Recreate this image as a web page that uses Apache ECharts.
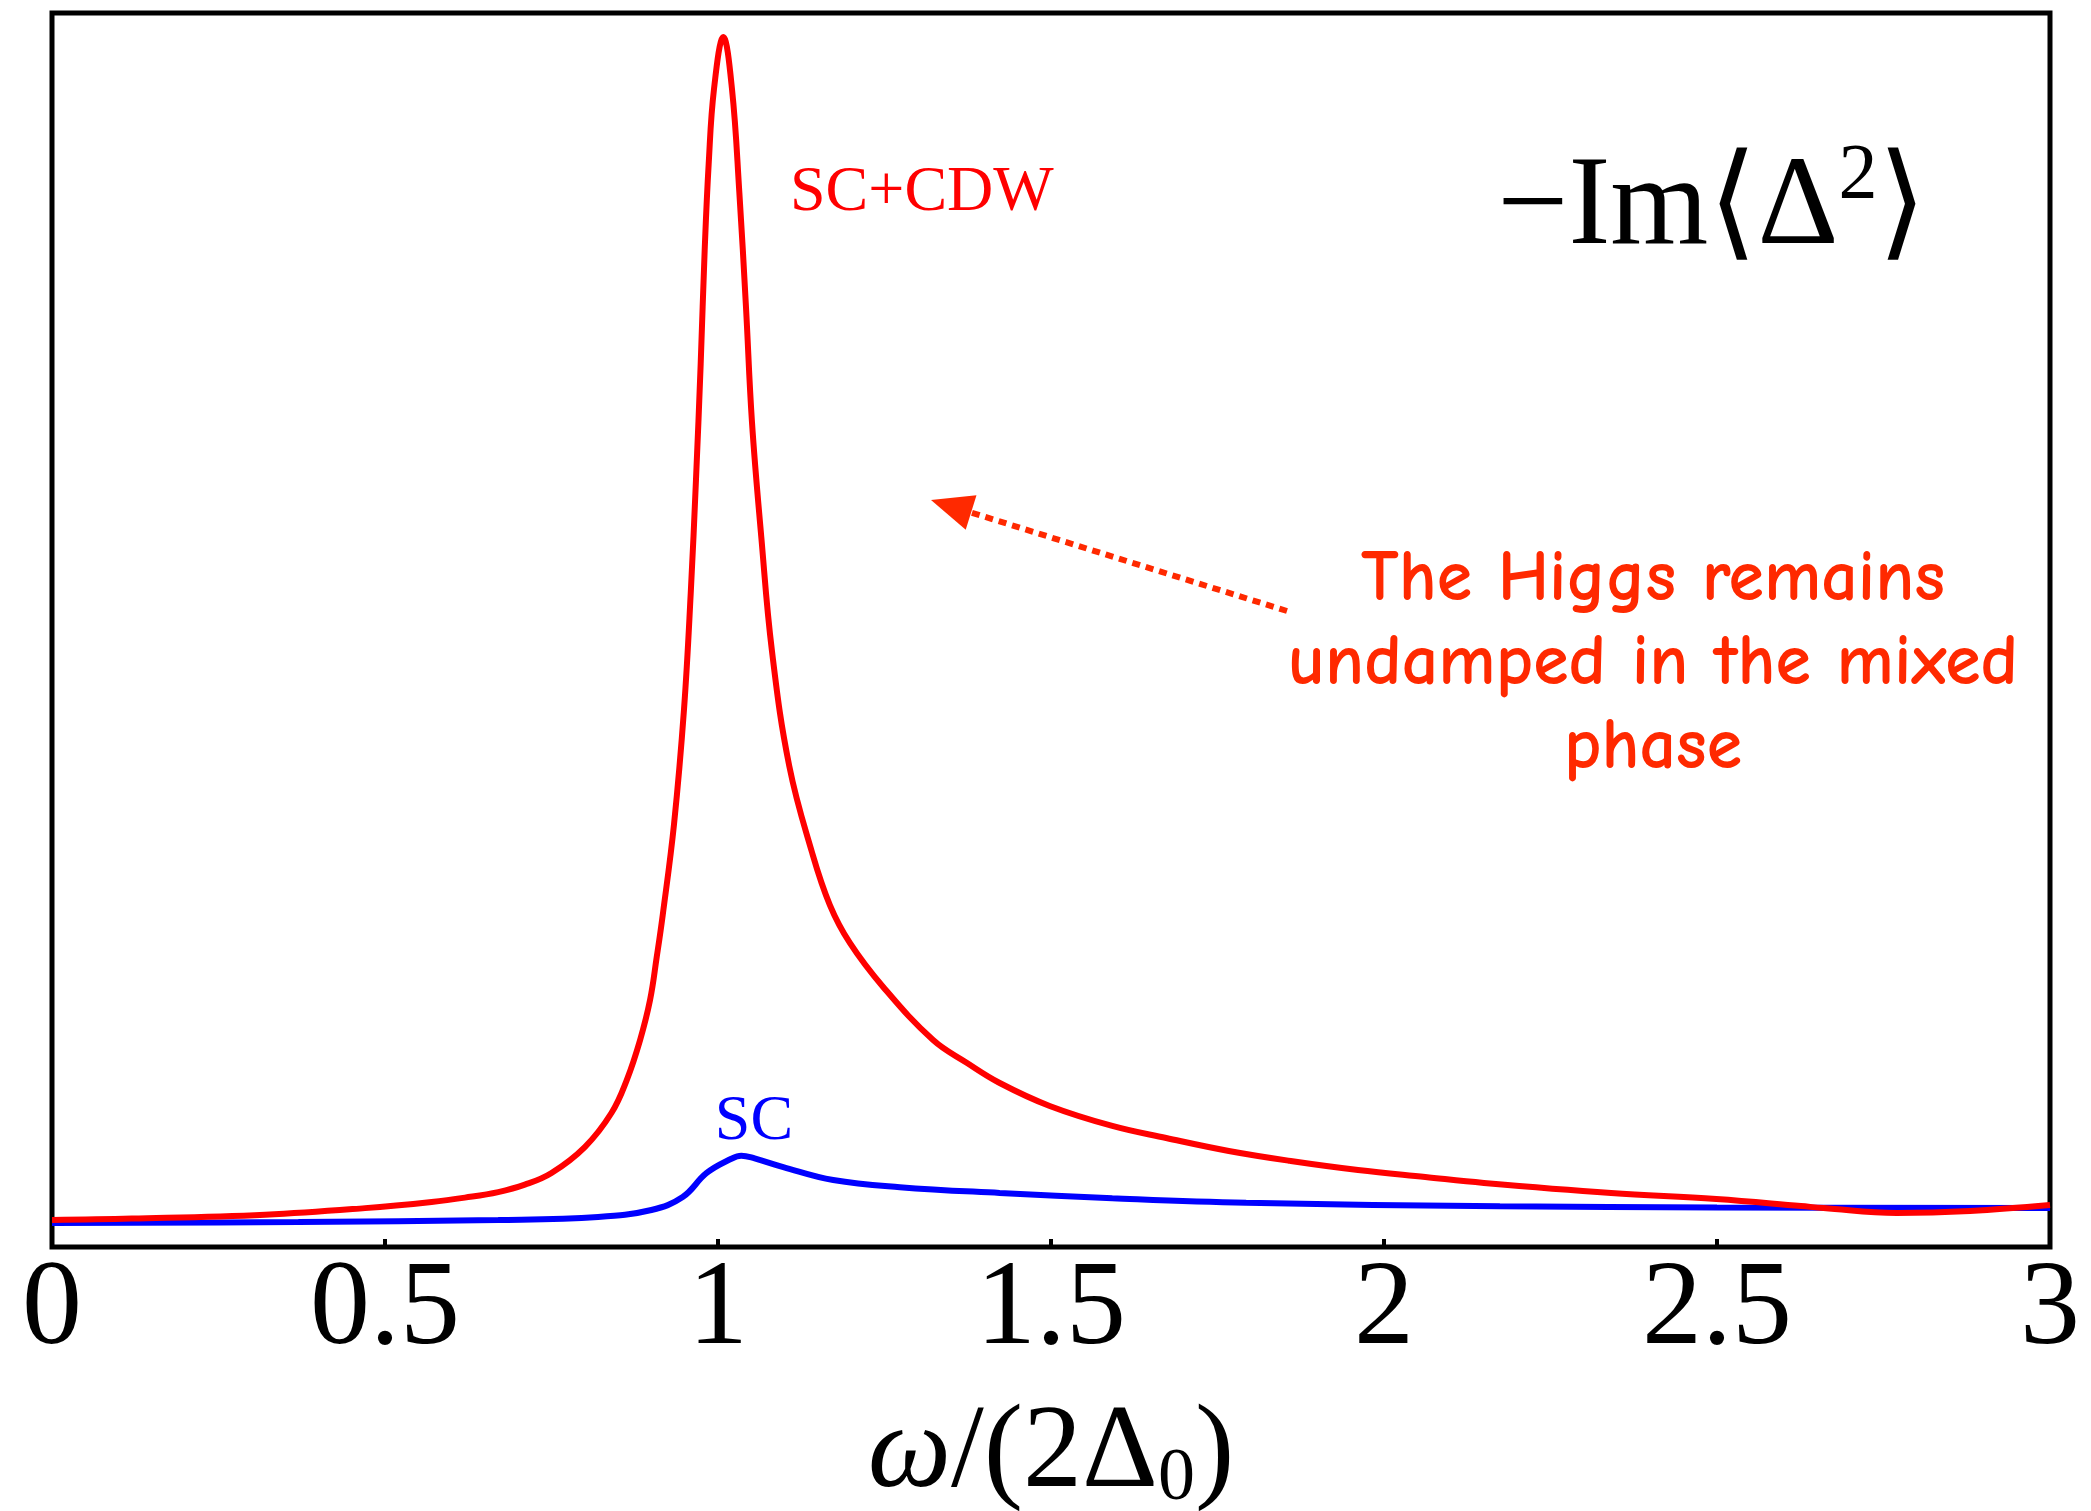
<!DOCTYPE html>
<html>
<head>
<meta charset="utf-8">
<script src="https://cdn.jsdelivr.net/npm/echarts@6/dist/echarts.min.js"></script>
<style>
html,body{margin:0;padding:0;background:#fff;}
#chart{width:2091px;height:1511px;}
</style>
</head>
<body>
<div id="chart"></div>
<script>
// ω/(2Δ0) sample positions and -Im<Δ²> values
const omegaSCCDW = [0, 0.12, 0.32, 0.47, 0.57, 0.62, 0.67, 0.71, 0.75, 0.80, 0.84, 0.863, 0.883, 0.898, 0.908, 0.917, 0.934, 0.949, 0.959, 0.967, 0.974, 0.980, 0.986, 0.994, 1.008, 1.021, 1.032, 1.042, 1.051, 1.065, 1.081, 1.107, 1.141, 1.168, 1.198, 1.248, 1.323, 1.374, 1.423, 1.498, 1.592, 1.673, 1.767, 1.860, 1.961, 2.062, 2.150, 2.341, 2.499, 2.626, 2.66, 2.77, 2.88, 3.0];
const valuesSCCDW = [2.19, 2.30, 2.62, 3.15, 3.65, 4.00, 4.45, 5.05, 6.00, 8.10, 10.86, 13.53, 16.77, 20.02, 23.50, 26.90, 34.28, 43.60, 52.92, 62.24, 71.56, 80.79, 87.76, 93.84, 98.06, 93.84, 85.49, 76.18, 66.86, 57.54, 48.30, 38.98, 32.01, 27.71, 24.64, 21.07, 16.77, 14.91, 13.29, 11.43, 9.81, 8.83, 7.78, 6.97, 6.24, 5.67, 5.19, 4.38, 3.89, 3.32, 3.16, 2.76, 2.92, 3.40];
const omegaSC = [0, 0.37, 0.67, 0.82, 0.90, 0.947, 0.983, 1.02, 1.035, 1.055, 1.098, 1.173, 1.273, 1.423, 1.592, 1.793, 2.174, 2.5, 3.0];
const valuesSC = [1.94, 2.03, 2.19, 2.43, 3.00, 4.05, 6.00, 7.15, 7.40, 7.18, 6.48, 5.43, 4.85, 4.38, 3.95, 3.58, 3.30, 3.20, 3.16];
const xTicks = ['0', '0.5', '1', '1.5', '2', '2.5', '3'];
const labelSCCDW = 'SC+CDW';
const labelSC = 'SC';
const annotationLines = ['The Higgs remains', 'undamped in the mixed', 'phase'];

const serif = "'Liberation Serif','Times New Roman','DejaVu Serif',serif";
const pair = (xs, ys) => xs.map((x, i) => [x, ys[i]]);

const chart = echarts.init(document.getElementById('chart'), null, {renderer: 'canvas'});

// arrow geometry
const tail = [1287, 611], tip = [931, 500];
const dx = tip[0] - tail[0], dy = tip[1] - tail[1];
const len = Math.hypot(dx, dy);
const ux = dx / len, uy = dy / len;
const headLen = 42, headHalf = 18;
const base = [tip[0] - headLen * ux, tip[1] - headLen * uy];
const px = -uy, py = ux;

chart.setOption({
  animation: false,
  backgroundColor: '#ffffff',
  grid: {
    left: 52, right: 41, top: 13, bottom: 264,
    containLabel: false, outerBoundsMode: 'none',
    show: true, borderColor: '#000', borderWidth: 5, backgroundColor: 'transparent'
  },
  xAxis: {
    type: 'value', min: 0, max: 3, interval: 0.5,
    axisLine: {show: false},
    splitLine: {show: false},
    axisTick: {show: true, inside: true, length: 8, lineStyle: {color: '#000', width: 4}},
    axisLabel: {
      show: true, margin: 4, color: '#000', fontSize: 120, fontFamily: serif,
      formatter: (v) => xTicks[Math.round(v * 2)]
    },
    name: '{i|ω}{n|/(2Δ}{s|0}{n|)}',
    nameLocation: 'middle',
    nameGap: 146,
    nameTextStyle: {
      rich: {
        i: {fontSize: 118, fontStyle: 'italic', fontFamily: serif, color: '#000', lineHeight: 124},
        n: {fontSize: 118, fontFamily: serif, color: '#000', lineHeight: 124},
        s: {fontSize: 74, fontFamily: serif, color: '#000', lineHeight: 46, verticalAlign: 'bottom'}
      }
    }
  },
  yAxis: {
    type: 'value', min: 0, max: 100,
    axisLine: {show: false}, axisTick: {show: false}, axisLabel: {show: false}, splitLine: {show: false}
  },
  series: [
    {
      name: 'SC+CDW', type: 'line', data: pair(omegaSCCDW, valuesSCCDW),
      showSymbol: false, smooth: 0.4,
      lineStyle: {color: '#ff0000', width: 6}, z: 3
    },
    {
      name: 'SC', type: 'line', data: pair(omegaSC, valuesSC),
      showSymbol: false, smooth: 0.4,
      lineStyle: {color: '#0000ff', width: 6}, z: 2
    }
  ],
  graphic: [
    {
      type: 'text', z: 10,
      style: {text: labelSCCDW, x: 790, y: 193, fill: '#ff0000', fontSize: 64, fontFamily: serif, align: 'left', verticalAlign: 'middle'}
    },
    {
      type: 'text', z: 10,
      style: {text: labelSC, x: 754, y: 1122, fill: '#0000ff', fontSize: 64, fontFamily: serif, align: 'center', verticalAlign: 'middle'}
    },
    {
      type: 'text', z: 10,
      style: {
        text: '{a|−Im⟨Δ}{b|2}{a|⟩}', x: 1712, y: 138, align: 'center', verticalAlign: 'top',
        rich: {
          a: {fontSize: 126, fontFamily: serif, fill: '#000', lineHeight: 144},
          b: {fontSize: 78, fontFamily: serif, fill: '#000', lineHeight: 76, verticalAlign: 'top'}
        }
      }
    },
    {
      type: 'text', z: 10,
      style: {
        text: annotationLines.join('\n'), x: 1653, y: 538, align: 'center', verticalAlign: 'top',
        fill: '#ff2900', fontSize: 72, fontWeight: 'bold', lineHeight: 84,
        fontFamily: "'Comic Sans MS','Comic Neue','DejaVu Sans',sans-serif"
      }
    },
    {
      type: 'line', z: 10,
      shape: {x1: tail[0], y1: tail[1], x2: base[0], y2: base[1]},
      style: {stroke: '#ff2900', lineWidth: 6, lineDash: [8, 6]}
    },
    {
      type: 'polygon', z: 10,
      shape: {points: [tip, [base[0] + headHalf * px, base[1] + headHalf * py], [base[0] - headHalf * px, base[1] - headHalf * py]]},
      style: {fill: '#ff2900'}
    }
  ]
});
</script>
</body>
</html>
